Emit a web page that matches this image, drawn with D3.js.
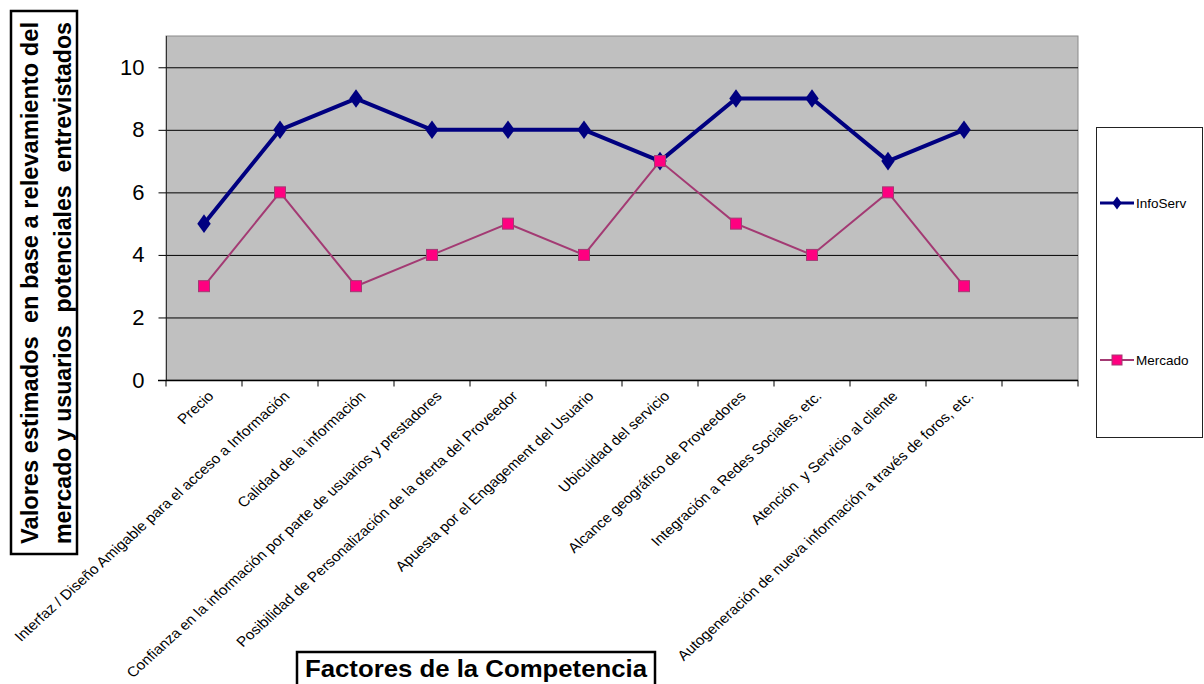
<!DOCTYPE html>
<html>
<head>
<meta charset="utf-8">
<script src="https://cdn.jsdelivr.net/npm/d3@7"></script>
<style>
  body { margin: 0; background: #fff; }
  svg { display: block; font-family: Arial, "Liberation Sans", sans-serif; }
</style>
</head>
<body>
<svg id="chart" width="1204" height="684"></svg>
<script>
// Competitive factors evaluated
const categories = [
  "Precio",
  "Interfaz / Diseño Amigable para el acceso a Información",
  "Calidad de la información",
  "Confianza en la información por parte de usuarios y prestadores",
  "Posibilidad de Personalización de la oferta del Proveedor",
  "Apuesta por el Engagement del Usuario",
  "Ubicuidad del servicio",
  "Alcance geográfico de Proveedores",
  "Integración a Redes Sociales, etc.",
  "Atención  y Servicio al cliente",
  "Autogeneración de nueva información a través de foros, etc."
];
const infoServ = [5, 8, 9, 8, 8, 8, 7, 9, 9, 7, 8];
const mercado  = [3, 6, 3, 4, 5, 4, 7, 5, 4, 6, 3];
const yTicks = [0, 2, 4, 6, 8, 10];
const seriesNames = ["InfoServ", "Mercado"];

const svg = d3.select("#chart");
const plot = { left: 166, right: 1078, top: 36, bottom: 380 };

// one extra, empty slot at the end of the category axis
const slots = d3.range(categories.length + 1);
const x = d3.scaleBand().domain(slots).range([plot.left, plot.right]);
const y = d3.scaleLinear().domain([0, 11]).range([plot.bottom, plot.top]);
const cx = i => x(i) + x.bandwidth() / 2;

// plot area
svg.append("rect")
  .attr("x", plot.left).attr("y", plot.top)
  .attr("width", plot.right - plot.left).attr("height", plot.bottom - plot.top)
  .attr("fill", "#C0C0C0").attr("stroke", "#8a8a8a").attr("stroke-width", 1);

// horizontal gridlines
svg.append("g").selectAll("line")
  .data(yTicks.filter(d => d > 0))
  .join("line")
  .attr("x1", plot.left).attr("x2", plot.right)
  .attr("y1", d => y(d) + 0.5).attr("y2", d => y(d) + 0.5)
  .attr("stroke", "#000").attr("stroke-width", 1);

// y axis
const yAxis = svg.append("g")
  .attr("transform", `translate(${plot.left + 0.5},0)`)
  .call(d3.axisLeft(y).tickValues(yTicks).tickSize(8).tickPadding(14).tickSizeOuter(0));
yAxis.select(".domain").attr("d", `M0,${plot.top}V${plot.bottom}`).attr("stroke", "#333");
yAxis.selectAll(".tick line").attr("stroke", "#000");
yAxis.selectAll(".tick text")
  .attr("font-size", 22).attr("fill", "#000")
  .attr("font-family", "Arial, 'Liberation Sans', sans-serif");

// x axis with ticks at category boundaries
const xAxis = svg.append("g").attr("transform", `translate(0,${plot.bottom + 0.5})`);
xAxis.append("line")
  .attr("x1", plot.left - 8).attr("x2", plot.right)
  .attr("stroke", "#000").attr("stroke-width", 1.5);
xAxis.selectAll("line.tk")
  .data(d3.range(slots.length + 1))
  .join("line").attr("class", "tk")
  .attr("x1", i => i < slots.length ? x(i) : plot.right)
  .attr("x2", i => i < slots.length ? x(i) : plot.right)
  .attr("y1", 0).attr("y2", 6)
  .attr("stroke", "#000");

// rotated category labels (slightly widened horizontally)
svg.append("g").selectAll("text")
  .data(categories)
  .join("text")
  .attr("transform", (d, i) => `translate(${cx(i) + 3},${plot.bottom + 10}) scale(1.1,1) rotate(-45)`)
  .attr("text-anchor", "end")
  .attr("dy", "0.7em")
  .attr("font-size", 14)
  .attr("fill", "#000")
  .style("white-space", "pre")
  .text(d => d);

// series lines
const line = d3.line().x((d, i) => cx(i)).y(d => y(d));

svg.append("path").datum(mercado)
  .attr("d", line).attr("fill", "none")
  .attr("stroke", "#A33A73").attr("stroke-width", 2);

svg.append("path").datum(infoServ)
  .attr("d", line).attr("fill", "none")
  .attr("stroke", "#000080").attr("stroke-width", 4).attr("stroke-linejoin", "round");

const diamond = d3.symbol().type(d3.symbolDiamond).size(100);
svg.append("g").selectAll("path")
  .data(infoServ)
  .join("path")
  .attr("d", diamond)
  .attr("transform", (d, i) => `translate(${cx(i)},${y(d)}) scale(1.25,1)`)
  .attr("fill", "#000080");

svg.append("g").selectAll("rect")
  .data(mercado)
  .join("rect")
  .attr("x", (d, i) => cx(i) - 5.5).attr("y", d => y(d) - 5.5)
  .attr("width", 11).attr("height", 11)
  .attr("fill", "#FF0080").attr("stroke", "#A33A73").attr("stroke-width", 1);

// legend
const lg = svg.append("g");
lg.append("rect")
  .attr("x", 1096.5).attr("y", 127.5).attr("width", 106).attr("height", 310)
  .attr("fill", "#fff").attr("stroke", "#222").attr("stroke-width", 1);
const legendY = [203, 360];
const lgItems = lg.selectAll("g.item").data(seriesNames).join("g")
  .attr("class", "item")
  .attr("transform", (d, i) => `translate(0,${legendY[i]})`);
lgItems.append("line")
  .attr("x1", 1100).attr("x2", 1134)
  .attr("stroke", (d, i) => i === 0 ? "#000080" : "#A33A73")
  .attr("stroke-width", (d, i) => i === 0 ? 3 : 2);
lgItems.each(function (d, i) {
  const g = d3.select(this);
  if (i === 0) {
    g.append("path").attr("d", d3.symbol().type(d3.symbolDiamond).size(50))
      .attr("transform", "translate(1117,0) scale(1.25,1)").attr("fill", "#000080");
  } else {
    g.append("rect").attr("x", 1112).attr("y", -5).attr("width", 10).attr("height", 10)
      .attr("fill", "#FF0080").attr("stroke", "#A33A73");
  }
});
lgItems.append("text")
  .attr("x", 1136).attr("dy", "0.35em")
  .attr("font-size", 13.5).attr("fill", "#000")
  .text(d => d);

// y axis title in a framed box
const yTitle = svg.append("g");
yTitle.append("rect")
  .attr("x", 11).attr("y", 11).attr("width", 66).attr("height", 543)
  .attr("fill", "#fff").attr("stroke", "#000").attr("stroke-width", 2.5);
const yLines = [
  "Valores estimados  en base a relevamiento del",
  "mercado y usuarios  potenciales  entrevistados"
];
yTitle.selectAll("text").data(yLines).join("text")
  .attr("transform", (d, i) => `translate(${38 + i * 33},283) rotate(-90)`)
  .attr("text-anchor", "middle")
  .attr("font-size", 23).attr("font-weight", "bold").attr("fill", "#000")
  .attr("textLength", 522).attr("lengthAdjust", "spacingAndGlyphs")
  .style("white-space", "pre")
  .text(d => d);

// x axis title in a framed box
const xTitle = svg.append("g");
xTitle.append("rect")
  .attr("x", 297).attr("y", 652).attr("width", 358).attr("height", 40)
  .attr("fill", "#fff").attr("stroke", "#000").attr("stroke-width", 2.5);
xTitle.append("text")
  .attr("x", 476).attr("y", 677)
  .attr("text-anchor", "middle")
  .attr("font-size", 24).attr("font-weight", "bold").attr("fill", "#000")
  .attr("textLength", 342).attr("lengthAdjust", "spacingAndGlyphs")
  .text("Factores de la Competencia");
</script>
</body>
</html>
